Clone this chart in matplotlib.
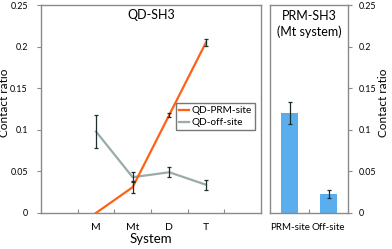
import numpy as np
import matplotlib.pyplot as plt

plt.rcParams['font.family'] = ['Lato', 'DejaVu Sans']

# Datos panel izquierdo (QD-SH3)
systems = ["", "M", "Mt", "D", "T", ""]
prm_site = [0.0, 0.031, 0.118, 0.205]
prm_err = [0.0, 0.007, 0.002, 0.004]
off_site = [0.098, 0.043, 0.049, 0.034]
off_err = [0.020, 0.006, 0.006, 0.006]

# Datos panel derecho (PRM-SH3, Mt)
bar_labels = ["PRM-site", "Off-site"]
bar_vals = [0.120, 0.023]
bar_err = [0.013, 0.005]

yticks = [0, 0.05, 0.1, 0.15, 0.2, 0.25]
ytick_labels = ["0", "0.05", "0.1", "0.15", "0.2", "0.25"]

orange = "#FF6117"
gray = "#9AABA8"
ecol = "#1E2D2D"
spine = "#8A8A8A"
fs = 6.4

fig = plt.figure(figsize=(3.92, 2.49), dpi=100)
ax1 = fig.add_axes([0.1046, 0.1446, 0.561, 0.835])
ax2 = fig.add_axes([0.689, 0.1446, 0.199, 0.835])

x = np.arange(1, 5)
ax1.plot(x, prm_site, color=orange, lw=1.6, label="QD-PRM-site", zorder=3)
ax1.errorbar(x[1:], prm_site[1:], yerr=prm_err[1:], fmt="none", ecolor=ecol,
             elinewidth=0.9, capsize=1.5, capthick=0.9, zorder=4)
ax1.plot(x, off_site, color=gray, lw=1.6, label="QD-off-site", zorder=2)
ax1.errorbar(x, off_site, yerr=off_err, fmt="none", ecolor=ecol,
             elinewidth=0.9, capsize=1.5, capthick=0.9, zorder=4)

ax1.set_xlim(-0.5, 5.5)
ax1.set_ylim(0, 0.25)
ax1.set_xticks(np.arange(0.5, 5.0, 1.0))
ax1.set_xticklabels([])
ax1.set_xticks(np.arange(0, 6), minor=True)
ax1.set_xticklabels(systems, minor=True, fontsize=7.5)
ax1.tick_params(axis="x", which="major", direction="in", length=3, color=spine)
ax1.tick_params(axis="x", which="minor", length=0, pad=7)
ax1.set_yticks(yticks)
ax1.set_yticklabels(ytick_labels, fontsize=fs)
ax1.tick_params(axis="y", direction="out", length=3, color=spine, pad=6.5)
ax1.set_xlabel("System", fontsize=9.5, labelpad=1)
ax1.set_ylabel("Contact ratio", fontsize=8.5)
ax1.yaxis.set_label_coords(-0.143, 0.53)
ax1.text(0.5, 0.952, "QD-SH3", transform=ax1.transAxes, ha="center",
         va="center", fontsize=9)
ax1.legend(loc="upper right", bbox_to_anchor=(0.973, 0.529), fontsize=7.2,
           frameon=True, fancybox=False, edgecolor="#555555",
           handlelength=1.0, handletextpad=0.25, borderpad=0.3,
           labelspacing=0.3, borderaxespad=0)

xb = np.arange(len(bar_vals))
ax2.bar(xb, bar_vals, width=0.43, color="#5AAEEE", yerr=bar_err,
        error_kw=dict(ecolor=ecol, elinewidth=0.9, capsize=1.5, capthick=0.9))
ax2.set_xlim(-0.5, 1.5)
ax2.set_ylim(0, 0.25)
ax2.set_xticks([0.5])
ax2.set_xticklabels([])
ax2.set_xticks(xb, minor=True)
ax2.set_xticklabels(bar_labels, minor=True, fontsize=7)
ax2.tick_params(axis="x", which="major", direction="in", length=3, color=spine)
ax2.tick_params(axis="x", which="minor", length=0, pad=7)
ax2.yaxis.tick_right()
ax2.yaxis.set_label_position("right")
ax2.set_yticks(yticks)
ax2.set_yticklabels(ytick_labels, fontsize=fs)
ax2.tick_params(axis="y", direction="out", length=3, color=spine, pad=4.5)
ax2.set_ylabel("Contact ratio", fontsize=8.5)
ax2.yaxis.set_label_coords(1.38, 0.53)
ax2.text(0.5, 0.909, "PRM-SH3\n(Mt system)", transform=ax2.transAxes,
         ha="center", va="center", fontsize=9, linespacing=1.3)

for ax in (ax1, ax2):
    for s in ax.spines.values():
        s.set_color(spine)
        s.set_linewidth(1.0)

fig.savefig("out.png", dpi=100)
